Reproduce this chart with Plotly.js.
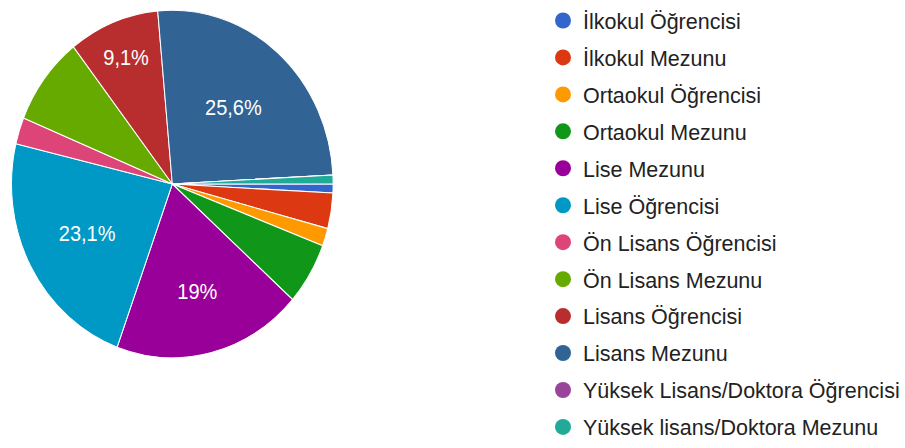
<!DOCTYPE html>
<html>
<head>
<meta charset="utf-8">
<script src="https://cdn.plot.ly/plotly-3.0.1.min.js"></script>
<style>html,body{margin:0;padding:0;background:#fff;}#chart{width:905px;height:448px;}</style>
</head>
<body>
<div id="chart"></div>
<script>
// Categories in drawing order (legend order)
const categories = [
  "İlkokul Öğrencisi",
  "İlkokul Mezunu",
  "Ortaokul Öğrencisi",
  "Ortaokul Mezunu",
  "Lise Mezunu",
  "Lise Öğrencisi",
  "Ön Lisans Öğrencisi",
  "Ön Lisans Mezunu",
  "Lisans Öğrencisi",
  "Lisans Mezunu",
  "Yüksek Lisans/Doktora Öğrencisi",
  "Yüksek lisans/Doktora Mezunu"
];
// Response counts (n = 121)
const counts = [1, 4, 2, 7, 23, 28, 3, 10, 11, 31, 0, 1];
const colors = ["#3366cc", "#dc3912", "#ff9900", "#109618", "#990099", "#0099c6",
                "#dd4477", "#66aa00", "#b82e2e", "#316395", "#994499", "#22aa99"];

const total = counts.reduce((a, b) => a + b, 0);
const sliceLabels = counts.map(v => {
  const p = v / total * 100;
  if (p < 9) return "";
  return p.toFixed(1).replace(/\.0$/, "").replace(".", ",") + "%";
});

const pie = {
  type: "pie",
  labels: categories,
  values: counts,
  text: sliceLabels,
  textinfo: "text",
  textposition: "inside",
  insidetextorientation: "horizontal",
  sort: false,
  direction: "clockwise",
  rotation: 90,
  marker: {colors: colors, line: {color: "#ffffff", width: 1}},
  textfont: {family: "Liberation Sans, Arial, sans-serif", size: 20, color: "#ffffff"},
  showlegend: false,
  hoverinfo: "none",
  domain: {x: [0.01271, 0.36851], y: [0.22991, 0.94866]}
};

// Legend entries with round markers
const legendTraces = categories.map((c, i) => ({
  type: "scatter",
  mode: "markers",
  x: [null], y: [null],
  name: c,
  legendgroup: "g" + i,
  marker: {color: colors[i], size: 16, symbol: "circle"},
  showlegend: true,
  hoverinfo: "none"
}));

const layout = {
  width: 905, height: 448,
  margin: {l: 0, r: 0, t: 0, b: 0},
  paper_bgcolor: "#ffffff",
  plot_bgcolor: "#ffffff",
  xaxis: {visible: false},
  yaxis: {visible: false},
  showlegend: true,
  legend: {
    x: 0.6006, y: 1.0, xanchor: "left", yanchor: "top",
    font: {family: "Liberation Sans, Arial, sans-serif", size: 21.5, color: "#222222"},
    tracegroupgap: 6,
    itemclick: false, itemdoubleclick: false,
    bgcolor: "rgba(0,0,0,0)"
  },
  hovermode: false
};

Plotly.newPlot("chart", [pie].concat(legendTraces), layout, {displayModeBar: false, staticPlot: true})
  .then(() => {
    // the reference pie is slightly elliptical (taller than wide)
    const k = 174 / 161, cy = 184;
    const pl = document.querySelector("#chart .pielayer");
    if (pl) pl.setAttribute("transform", "matrix(1,0,0," + k + ",0," + (cy * (1 - k)) + ")");
  });
</script>
</body>
</html>
